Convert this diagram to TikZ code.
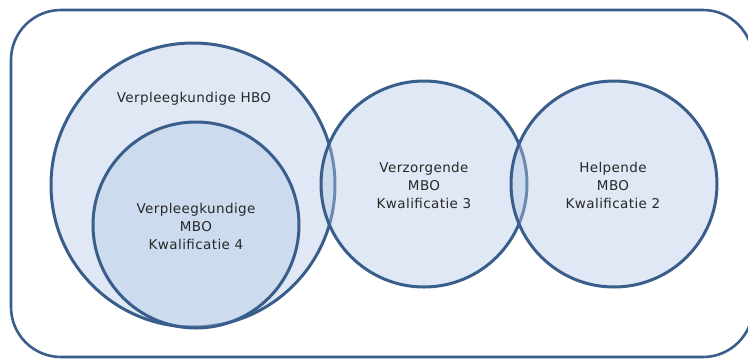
\documentclass[tikz,border=0pt]{standalone}
\usepackage{fontspec}
\setmainfont{DejaVu Sans}[LetterSpace=3]
\begin{document}
\begin{tikzpicture}[x=1pt,y=-1pt,
  edge/.style={draw={rgb,255:red,58;green,94;blue,140}},
  bubble/.style={edge, line width=3pt, fill={rgb,255:red,178;green,201;blue,229}, fill opacity=0.42, draw opacity=1, text opacity=1},
  lbl/.style={font=\fontsize{13.5}{18}\selectfont, text={rgb,255:red,40;green,40;blue,40}, align=center}]
\useasboundingbox (0,0) rectangle (748,360);
\draw[edge, line width=2.6pt, rounded corners=50pt] (11,10) rectangle (753,357);
\path[bubble] (193,185) circle[radius=142];
\path[bubble] (196,225) circle[radius=103];
\path[bubble] (424,184) circle[radius=103];
\path[bubble] (614,184) circle[radius=103];
\node[lbl] (hbo) at (194,99) {Verpleegkundige HBO};
\node[lbl] (mbo4) at (196,226) {Verpleegkundige\\MBO\\Kwalificatie 4};
\node[lbl] (mbo3) at (424,185) {Verzorgende\\MBO\\Kwalificatie 3};
\node[lbl] (mbo2) at (613,185) {Helpende\\MBO\\Kwalificatie 2};
\end{tikzpicture}
\end{document}
